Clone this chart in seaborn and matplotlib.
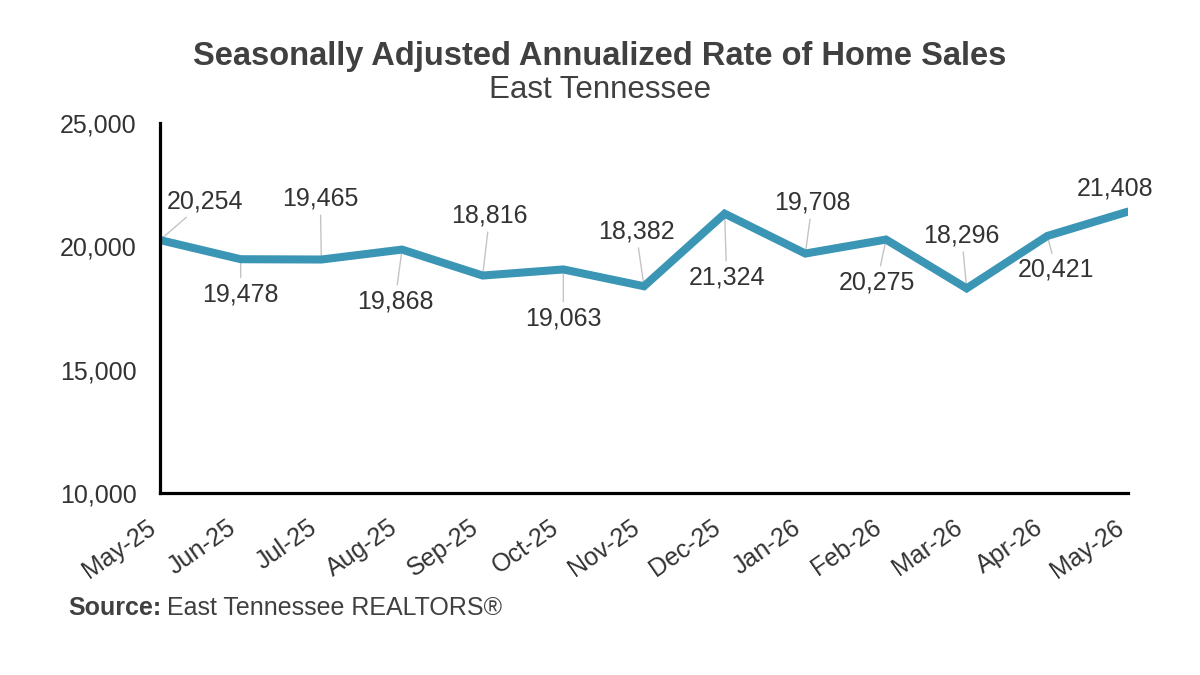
import matplotlib
matplotlib.use("Agg")
import matplotlib.pyplot as plt
import seaborn as sns
import pandas as pd

months = ["May-25", "Jun-25", "Jul-25", "Aug-25", "Sep-25", "Oct-25", "Nov-25",
          "Dec-25", "Jan-26", "Feb-26", "Mar-26", "Apr-26", "May-26"]
sales = [20254, 19478, 19465, 19868, 18816, 19063, 18382,
         21324, 19708, 20275, 18296, 20421, 21408]
y_ticks = [10000, 15000, 20000, 25000]

title = "Seasonally Adjusted Annualized Rate of Home Sales"
subtitle = "East Tennessee"

sns.set_theme(style="white")
plt.rcParams["font.family"] = ["Liberation Sans", "DejaVu Sans"]

TXT = "#333333"
LINE = "#3B95B4"

df = pd.DataFrame({"idx": range(len(months)), "month": months, "sales": sales})

fig = plt.figure(figsize=(12, 6.75), dpi=100)
W, H = 1200, 675
left, right, top, bottom = 160, 1128, 123, 493
ax = fig.add_axes([left / W, 1 - bottom / H, (right - left) / W, (bottom - top) / H])

sns.lineplot(data=df, x="idx", y="sales", ax=ax, color=LINE, linewidth=5.8,
             solid_joinstyle="miter", zorder=3)

ax.set_xlim(0, len(months) - 1)
ax.set_ylim(y_ticks[0], y_ticks[-1])
ax.set_yticks(y_ticks)
ax.set_yticklabels([f"{v:,}" for v in y_ticks])
ax.set_xticks(df["idx"])
ax.set_xticklabels(months, rotation=35, ha="right")
ax.set_xlabel("")
ax.set_ylabel("")
ax.tick_params(axis="x", length=0, pad=16, labelsize=18, labelcolor=TXT)
ax.tick_params(axis="y", length=0, pad=17, labelsize=18, labelcolor=TXT)
ax.grid(False)
for s in ["top", "right"]:
    ax.spines[s].set_visible(False)
for s in ["left", "bottom"]:
    ax.spines[s].set_color("black")
    ax.spines[s].set_linewidth(2.3)
    ax.spines[s].set_zorder(4)

# label offsets in pixels (dx right, dy up)
offsets = [(45, 39), (0, -35), (-1, 61), (-7, -52), (7, 60), (0, -49), (-8, 55),
           (2, -64), (7, 51), (-9, -43), (-5, 53), (9, -34), (-13, 23)]
for i, (v, (dx, dy)) in enumerate(zip(sales, offsets)):
    arrow = None
    if i != len(sales) - 1:
        arrow = dict(arrowstyle="-", color="#C4C4C4", lw=1.0, shrinkA=1, shrinkB=0)
    ax.annotate(f"{v:,}", xy=(i, v), xytext=(dx, dy), textcoords="offset pixels",
                ha="center", va="center", fontsize=18, color=TXT,
                arrowprops=arrow, zorder=2, annotation_clip=False)

fig.text(0.5, 1 - 57 / H, title, ha="center", va="center", fontsize=23.5,
         fontweight="bold", color="#404040")
fig.text(0.5, 1 - 90 / H, subtitle, ha="center", va="center", fontsize=22.5,
         color="#404040")

src_bold = fig.text(68 / W, 1 - 608 / H, "Source:", ha="left", va="center",
                    fontsize=18, fontweight="bold", color="#404040")
renderer = fig.canvas.get_renderer()
bb = src_bold.get_window_extent(renderer=renderer)
fig.text((bb.x1 + 6) / W, 1 - 608 / H, "East Tennessee REALTORS®", ha="left",
         va="center", fontsize=18, color="#404040")

fig.savefig("out.png", dpi=100, facecolor="white")
